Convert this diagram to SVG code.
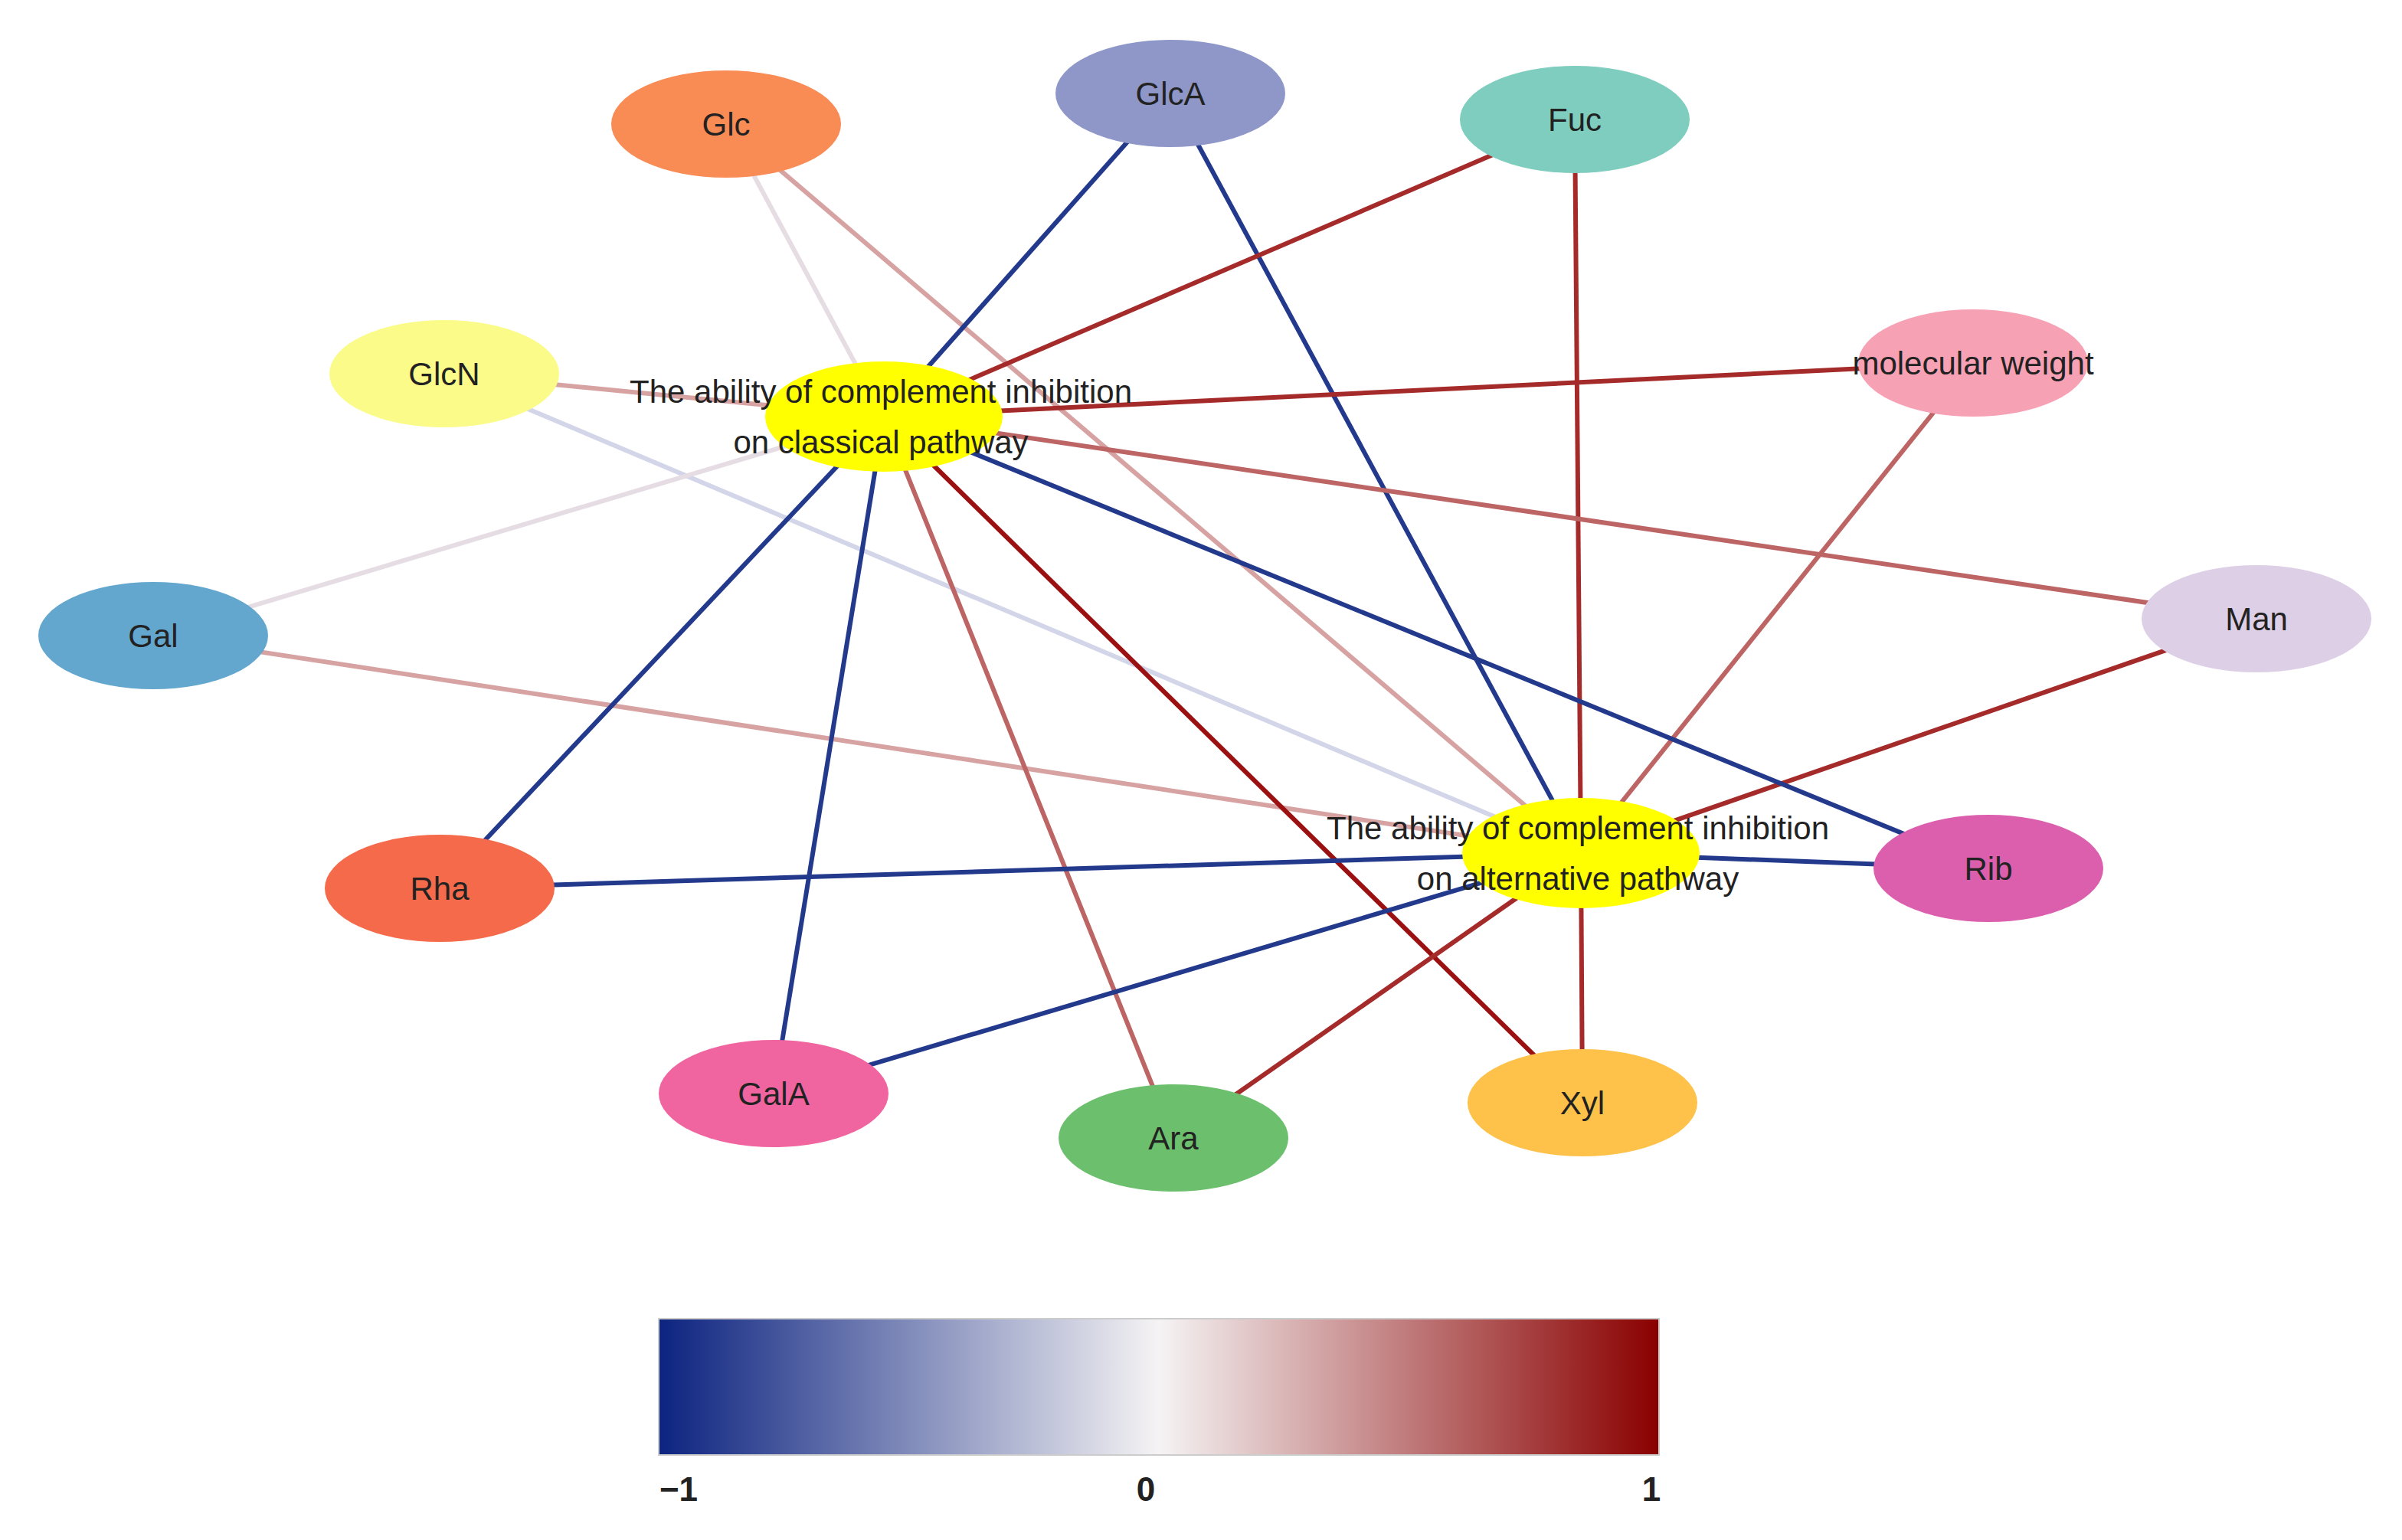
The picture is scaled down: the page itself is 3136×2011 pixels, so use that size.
<svg xmlns="http://www.w3.org/2000/svg" width="3136" height="2011" viewBox="0 0 3136 2011">
<defs>
<linearGradient id="cb" x1="0" x2="1" y1="0" y2="0">
<stop offset="0" stop-color="#0c2380"/><stop offset="0.5" stop-color="#f5f3f4"/><stop offset="1" stop-color="#8a0000"/>
</linearGradient>
</defs>
<style>
.e{stroke-width:6;fill:none}
.n{stroke:none}
.t{font-family:"Liberation Sans",Arial,sans-serif;font-size:42px;fill:#222;text-anchor:middle}
.b{stroke:#22398c}.r{stroke:#a52a2a}.dr{stroke:#9b1010}.m{stroke:#bd6464}.p{stroke:#d7a2a2}.pl{stroke:#e6dde4}.lv{stroke:#d3d5e8}
</style>
<rect width="3136" height="2011" fill="#fff"/>
<g id="connectors">
<line class="e pl" x1="948" y1="162" x2="1154" y2="544"/>
<line class="e p" x1="948" y1="162" x2="2064" y2="1114"/>
<line class="e lv" x1="580" y1="488" x2="2064" y2="1114"/>
<line class="e p" x1="580" y1="488" x2="1154" y2="544"/>
<line class="e pl" x1="200" y1="830" x2="1154" y2="544"/>
<line class="e p" x1="200" y1="830" x2="2064" y2="1114"/>
<line class="e b" x1="1528" y1="122" x2="1154" y2="544"/>
<line class="e b" x1="1528" y1="122" x2="2064" y2="1114"/>
<line class="e r" x1="2056" y1="156" x2="1154" y2="544"/>
<line class="e r" x1="2056" y1="156" x2="2064" y2="1114"/>
<line class="e r" x1="2576" y1="474" x2="1154" y2="544"/>
<line class="e m" x1="2576" y1="474" x2="2064" y2="1114"/>
<line class="e m" x1="2946" y1="808" x2="1154" y2="544"/>
<line class="e r" x1="2946" y1="808" x2="2064" y2="1114"/>
<line class="e b" x1="2596" y1="1134" x2="1154" y2="544"/>
<line class="e b" x1="2596" y1="1134" x2="2064" y2="1114"/>
<line class="e dr" x1="2066" y1="1440" x2="1154" y2="544"/>
<line class="e r" x1="2066" y1="1440" x2="2064" y2="1114"/>
<line class="e m" x1="1532" y1="1486" x2="1154" y2="544"/>
<line class="e r" x1="1532" y1="1486" x2="2064" y2="1114"/>
<line class="e b" x1="1010" y1="1428" x2="1154" y2="544"/>
<line class="e b" x1="1010" y1="1428" x2="2064" y2="1114"/>
<line class="e b" x1="574" y1="1160" x2="1154" y2="544"/>
<line class="e b" x1="574" y1="1160" x2="2064" y2="1114"/>
</g>
<g id="Glc"><ellipse class="n" cx="948" cy="162" rx="150" ry="70" fill="#f98b55"/><text class="t" x="948" y="177">Glc</text></g>
<g id="GlcA"><ellipse class="n" cx="1528" cy="122" rx="150" ry="70" fill="#8e97c8"/><text class="t" x="1528" y="137">GlcA</text></g>
<g id="Fuc"><ellipse class="n" cx="2056" cy="156" rx="150" ry="70" fill="#7fcdbf"/><text class="t" x="2056" y="171">Fuc</text></g>
<g id="GlcN"><ellipse class="n" cx="580" cy="488" rx="150" ry="70" fill="#fbfb8a"/><text class="t" x="580" y="503">GlcN</text></g>
<g id="mw"><ellipse class="n" cx="2576" cy="474" rx="150" ry="70" fill="#f7a1b5"/><text class="t" x="2576" y="489">molecular weight</text></g>
<g id="Man"><ellipse class="n" cx="2946" cy="808" rx="150" ry="70" fill="#ddd0e6"/><text class="t" x="2946" y="823">Man</text></g>
<g id="Gal"><ellipse class="n" cx="200" cy="830" rx="150" ry="70" fill="#64a7ce"/><text class="t" x="200" y="845">Gal</text></g>
<g id="Rha"><ellipse class="n" cx="574" cy="1160" rx="150" ry="70" fill="#f56a4a"/><text class="t" x="574" y="1175">Rha</text></g>
<g id="Rib"><ellipse class="n" cx="2596" cy="1134" rx="150" ry="70" fill="#dc5fae"/><text class="t" x="2596" y="1149">Rib</text></g>
<g id="GalA"><ellipse class="n" cx="1010" cy="1428" rx="150" ry="70" fill="#f064a0"/><text class="t" x="1010" y="1443">GalA</text></g>
<g id="Ara"><ellipse class="n" cx="1532" cy="1486" rx="150" ry="70" fill="#6cc06d"/><text class="t" x="1532" y="1501">Ara</text></g>
<g id="Xyl"><ellipse class="n" cx="2066" cy="1440" rx="150" ry="70" fill="#fec24a"/><text class="t" x="2066" y="1455">Xyl</text></g>
<g id="CP"><ellipse class="n" cx="1154" cy="544" rx="155" ry="72" fill="#ffff00"/><text class="t" x="1150" y="526">The ability of complement inhibition</text><text class="t" x="1150" y="592">on classical pathway</text></g>
<g id="AP"><ellipse class="n" cx="2064" cy="1114" rx="155" ry="72" fill="#ffff00"/><text class="t" x="2060" y="1096">The ability of complement inhibition</text><text class="t" x="2060" y="1162">on alternative pathway</text></g>
<g id="colorbar">
<rect x="860" y="1722" width="1306" height="178" fill="url(#cb)" stroke="#ccc" stroke-width="2"/>
<text class="t" x="886" y="1960" style="font-weight:bold;font-size:44px">−1</text>
<text class="t" x="1496" y="1960" style="font-weight:bold;font-size:44px">0</text>
<text class="t" x="2156" y="1960" style="font-weight:bold;font-size:44px">1</text>
</g>
</svg>
